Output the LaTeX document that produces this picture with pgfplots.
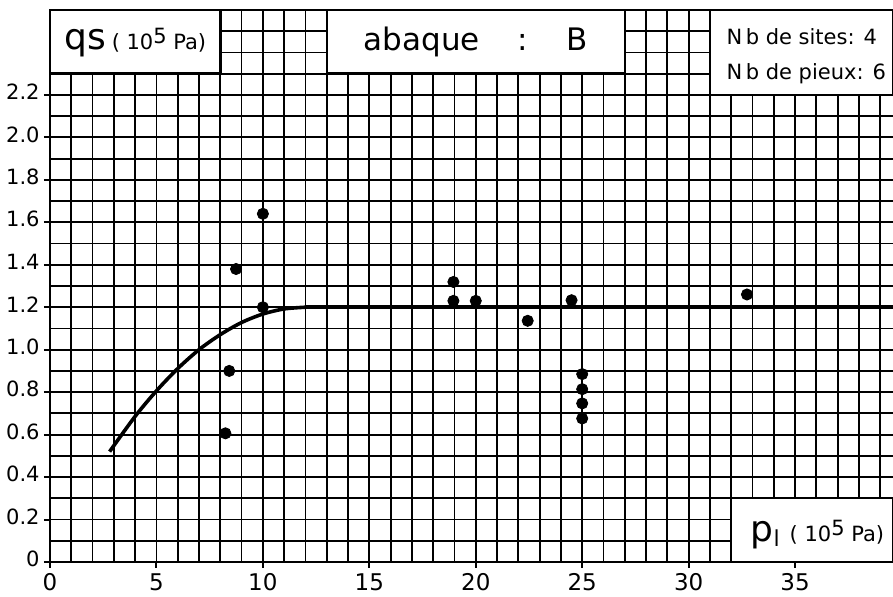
\documentclass[border=0pt]{standalone}
\usepackage{fontspec}
\setmainfont{DejaVu Sans}
\usepackage{pgfplots}
\pgfplotsset{compat=1.18}
\usetikzlibrary{calc}
\begin{document}
\begin{tikzpicture}
\begin{axis}[
  name=ax, at={(0,0)}, anchor=south west,
  scale only axis, width=421.5pt, height=276pt,
  xmin=0, xmax=39.6, ymin=0, ymax=2.6,
  clip=false,
  axis line style={draw=none},
  xtick={0,5,...,35}, xticklabels={0,5,10,15,20,25,30,35},
  ytick={0,0.2,0.4,0.6,0.8,1.0,1.2,1.4,1.6,1.8,2.0,2.2},
  yticklabels={0,0.2,0.4,0.6,0.8,1.0,1.2,1.4,1.6,1.8,2.0,2.2},
  minor xtick={0,1,...,39},
  minor ytick={0,0.1,0.2,0.3,0.4,0.5,0.6,0.7,0.8,0.9,1.0,1.1,1.2,1.3,1.4,1.5,1.6,1.7,1.8,1.9,2.0,2.1,2.2,2.3,2.4,2.5,2.6},
  grid=both,
  major grid style={black, line width=0.9pt},
  minor grid style={black, line width=0.9pt},
  tick align=outside, major tick length=3pt, minor tick length=0pt,
  tick style={black, line width=1pt},
  xtick pos=bottom, ytick pos=left,
  /pgf/number format/assume math mode=true,
  xticklabel style={font=\fontsize{11.5}{12.5}\selectfont, inner sep=0.5pt, yshift=-2pt},
  yticklabel style={font=\fontsize{10.5}{12}\selectfont, inner sep=1pt, xshift=-1pt, yshift=1.5pt},
]
\addplot[black, line width=1.8pt, smooth] coordinates {
(2.8,0.52) (4,0.686) (5,0.806) (6,0.911) (7,1.0) (8,1.071) (9,1.128) (10,1.168) (11,1.192) (12,1.2)};
\addplot[black, line width=1.8pt] coordinates {(12,1.2) (39.6,1.2)};
\addplot[only marks, mark=*, mark size=2.8pt, black] coordinates {
(10,1.64) (8.74,1.38) (10,1.20) (8.42,0.90) (8.24,0.606)
(18.95,1.319) (18.95,1.23) (20,1.23) (22.44,1.136) (24.5,1.233)
(25,0.885) (25,0.814) (25,0.747) (25,0.676) (32.74,1.26)};
% boxes
\draw[fill=white, line width=1.2pt] (axis cs:0,2.3) rectangle (axis cs:8,2.6);
\draw[fill=white, line width=1.2pt] (axis cs:13,2.3) rectangle (axis cs:27,2.6);
\draw[fill=white, line width=1.2pt] (axis cs:31,2.2) rectangle (axis cs:39.6,2.6);
\draw[fill=white, line width=1.2pt] (axis cs:32,0) rectangle (axis cs:39.6,0.3);
% border
\draw[line width=1.4pt] (axis cs:39.6,2.6) -- (axis cs:0,2.6) -- (axis cs:0,0) -- (axis cs:39.6,0);
% texts
\node at (axis cs:4,2.445) {{\fontsize{18}{20}\selectfont qs}\hspace{3pt}{\fontsize{10.5}{12}\selectfont ( 10\raisebox{0.55ex}{5} Pa)}};
\node at (axis cs:20,2.45) {\fontsize{15.5}{17}\selectfont abaque\hspace{19pt}:\hspace{19pt}B};
\node[anchor=west] at (axis cs:31.45,2.475) {\fontsize{10.5}{12}\selectfont N\,b de sites: 4};
\node[anchor=west] at (axis cs:31.45,2.30) {\fontsize{10.5}{12}\selectfont N\,b de pieux: 6};
\node[anchor=west, inner sep=0pt] at (axis cs:32.9,0.13) {{\fontsize{18}{20}\selectfont p}\raisebox{-0.5ex}{\fontsize{11}{12}\selectfont l}\hspace{5pt}{\fontsize{10.5}{12}\selectfont ( 10\raisebox{0.55ex}{5} Pa)}};
\end{axis}
\pgfresetboundingbox
\useasboundingbox (-25pt,-17.5pt) rectangle (421.5pt,281pt);
\end{tikzpicture}
\end{document}
